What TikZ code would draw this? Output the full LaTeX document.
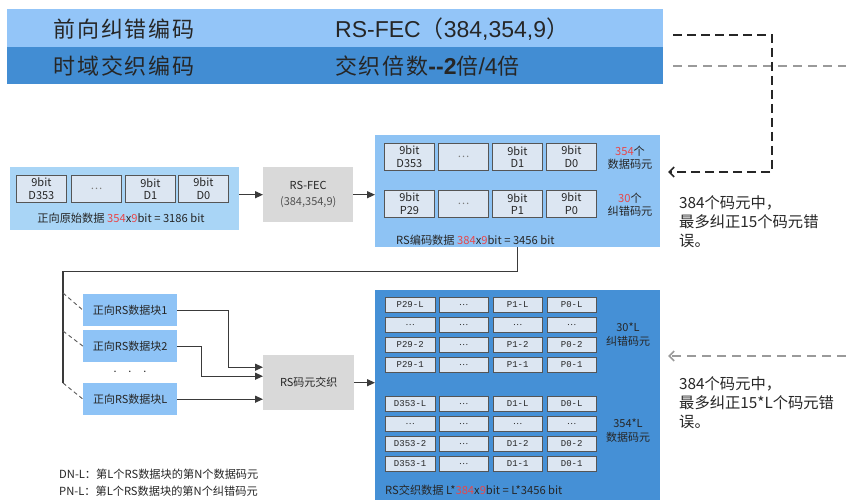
\documentclass[tikz,border=0pt]{standalone}
\usepackage{fontspec}
\setmainfont{Noto Sans CJK SC}
\newfontfamily\cjk{Noto Sans CJK SC}
\newfontfamily\bannercjk{Noto Sans CJK SC}[LetterSpace=8]
\newfontfamily\arial{Liberation Sans}
\newfontfamily\monof{Liberation Mono}
\usetikzlibrary{arrows.meta,calc}

\definecolor{bandA}{HTML}{93C5F8}
\definecolor{bandB}{HTML}{428DD3}
\definecolor{inblue}{HTML}{A9D5F6}
\definecolor{encblue}{HTML}{8EC3F4}
\definecolor{blkblue}{HTML}{8EC3F6}
\definecolor{ilvblue}{HTML}{4590D6}
\definecolor{cellfill}{HTML}{DCE6F2}
\definecolor{cellline}{HTML}{555555}
\definecolor{grayfill}{HTML}{D9D9D9}
\definecolor{wire}{HTML}{3A3A3A}
\definecolor{numred}{HTML}{E8474A}
\definecolor{ink}{HTML}{262626}
\definecolor{dashgray}{HTML}{9A9A9A}

\newcommand{\rn}[1]{\textcolor{numred}{#1}}
\newcommand{\dd}{{\cjk\fontsize{8.5}{9}\selectfont …}}

\tikzset{
  band/.style={rectangle, draw=none, inner sep=0pt, minimum width=656, anchor=north west},
  bannertext/.style={text=ink, inner sep=0pt, font=\fontsize{22}{24}\selectfont},
  bannerlatin/.style={text=ink, inner sep=0pt, font=\fontsize{23}{25}\selectfont},
  panel/.style={rectangle, draw=none, inner sep=0pt, anchor=north west},
  smalltext/.style={text=ink, inner sep=0pt, font=\fontsize{11.2}{13}\selectfont},
  bitcell/.style={rectangle, draw=cellline, fill=cellfill, line width=0.8pt,
    minimum width=50, minimum height=27, inner sep=0pt, anchor=north west,
    align=center, text=ink, font=\fontsize{11}{12.5}\selectfont},
  gridcell/.style={rectangle, draw=cellline, fill=cellfill, line width=0.8pt,
    minimum width=49.5, minimum height=15.5, inner sep=0pt, anchor=north west,
    text=ink, font=\monof\fontsize{9}{10}\selectfont},
  graybox/.style={rectangle, draw=none, fill=grayfill, inner sep=0pt, anchor=north west,
    align=center, text=ink, font=\fontsize{11}{16}\selectfont},
  blkbox/.style={rectangle, draw=none, fill=blkblue, inner sep=0pt, anchor=north west,
    minimum width=94, minimum height=32, text=ink, font=\fontsize{11}{13}\selectfont},
  wireline/.style={draw=wire, line width=1.2pt},
  arr/.style={-{Triangle[length=8pt,width=7pt]}},
  blkdash/.style={draw=black!85, line width=1.6pt, dash pattern=on 9pt off 5pt},
  graydash/.style={draw=dashgray, line width=1.6pt, dash pattern=on 9pt off 6pt},
  barb/.style={-{Straight Barb[length=5pt,width=10pt,line width=1.6pt]}},
  diag/.style={draw=wire!85, line width=0.9pt, dash pattern=on 4pt off 3pt},
  note/.style={text=ink, inner sep=0pt, anchor=north west, align=left,
    font=\fontsize{15.3}{19}\selectfont},
}

\begin{document}
\begin{tikzpicture}[x=1pt,y=-1pt]
\useasboundingbox[fill=white] (0,0) rectangle (846,500);

% ---- header bands ----
\node[band, fill=bandA, minimum height=38] (bandA) at (7,9) {};
\node[band, fill=bandB, minimum height=37] (bandB) at (7,47) {};
\node[bannertext] (labA) at (124,29) {\bannercjk 前向纠错编码};
\node[bannertext] (labB) at (124,66) {\bannercjk 时域交织编码};
\node[bannerlatin, anchor=west] (valA) at (335,29) {\arial RS-FEC{\cjk（}384,354,9{\cjk）}};
\node[bannerlatin, anchor=west] (valB) at (335,66)
  {{\bannercjk\fontsize{22}{24}\selectfont 交织倍数}{\arial\bfseries --2}{\bannercjk\fontsize{22}{24}\selectfont 倍}{\arial /4}{\bannercjk\fontsize{22}{24}\selectfont 倍}};

% ---- raw data block ----
\node[panel, fill=inblue, minimum width=229, minimum height=63] (inbox) at (10,167) {};
\foreach \x/\t [count=\i] in {16/{9bit\\D353}, 71/{\color{ink!60}…}, 125/{9bit\\D1}, 178/{9bit\\D0}}
  \node[bitcell] (in\i) at (\x,175) {\t};
\node[smalltext] (incap) at (121,218) {正向原始数据 \rn{354}x\rn{9}bit = 3186 bit};

% ---- RS-FEC encoder ----
\node[graybox, minimum width=90, minimum height=55] (fec) at (263,167) {RS-FEC\\{\color{ink!80}(384,354,9)}};

% ---- encoded block ----
\node[panel, fill=encblue, minimum width=285, minimum height=112] (enc) at (375,135) {};
\foreach \x/\t [count=\i] in {384/{9bit\\D353}, 438/{\color{ink!60}…}, 492/{9bit\\D1}, 546/{9bit\\D0}}
  \node[bitcell] (ed\i) at (\x,143) {\t};
\foreach \x/\t [count=\i] in {384/{9bit\\P29}, 438/{\color{ink!60}…}, 492/{9bit\\P1}, 546/{9bit\\P0}}
  \node[bitcell] (ep\i) at (\x,190) {\t};
\node[smalltext, align=center] (encD) at (630,158) {\rn{354}个\\数据码元};
\node[smalltext, align=center] (encP) at (630,205) {\rn{30}个\\纠错码元};
\node[smalltext, anchor=west] (enccap) at (396,240) {RS编码数据 \rn{384}x\rn{9}bit = 3456 bit};

\draw[wireline, arr] (fec.west -| inbox.east) -- (fec.west);
\draw[wireline, arr] (fec.east) -- (fec.east -| enc.west);

% ---- split into L data blocks ----
\node[blkbox] (blk1) at (83,294) {正向RS数据块1};
\node[blkbox] (blk2) at (83,330) {正向RS数据块2};
\node[blkbox] (blkL) at (83,383) {正向RS数据块L};
\node[inner sep=0pt, text=ink, font=\fontsize{7}{7}\selectfont] (dots) at (130,373)
  {\textbullet\hspace{8pt}\textbullet\hspace{8pt}\textbullet};

\coordinate (t1) at (63,293);
\coordinate (t2) at (63,331);
\coordinate (t3) at (63,383);
\draw[wireline] (enc.south) -- ++(0,24) -| (t3);
\draw[diag] (t1) -- (blk1.west);
\draw[diag] (t2) -- (blk2.west);
\draw[diag] (t3) -- (blkL.west);

% ---- interleaver ----
\node[graybox, minimum width=91, minimum height=55] (ilv) at (263,355) {RS码元交织};
\draw[wireline, arr] (blk1.east) -- ++(51,0) |- ($(ilv.west)+(0,-15.5)$);
\draw[wireline, arr] (blk2.east) -- ++(24,0) |- ($(ilv.west)+(0,-6.5)$);
\draw[wireline, arr] (blkL.east) -- (blkL.east -| ilv.west);

% ---- interleaved block ----
\node[panel, fill=ilvblue, minimum width=285, minimum height=210] (big) at (375,290) {};
\draw[wireline, arr] (ilv.east) -- (ilv.east -| big.west);

\foreach \a/\b/\c/\d [count=\r] in {P29-L/\dd/P1-L/P0-L, \dd/\dd/\dd/\dd, P29-2/\dd/P1-2/P0-2, P29-1/\dd/P1-1/P0-1}{
  \pgfmathsetmacro{\yy}{296.5+20*(\r-1)}
  \node[gridcell] (gp\r a) at (385,\yy) {\a};
  \node[gridcell] (gp\r b) at (438.5,\yy) {\b};
  \node[gridcell] (gp\r c) at (492.5,\yy) {\c};
  \node[gridcell] (gp\r d) at (546.5,\yy) {\d};
}
\foreach \a/\b/\c/\d [count=\r] in {D353-L/\dd/D1-L/D0-L, \dd/\dd/\dd/\dd, D353-2/\dd/D1-2/D0-2, D353-1/\dd/D1-1/D0-1}{
  \pgfmathsetmacro{\yy}{395.5+20*(\r-1)}
  \node[gridcell] (gd\r a) at (385,\yy) {\a};
  \node[gridcell] (gd\r b) at (438.5,\yy) {\b};
  \node[gridcell] (gd\r c) at (492.5,\yy) {\c};
  \node[gridcell] (gd\r d) at (546.5,\yy) {\d};
}
\node[smalltext, align=center, font=\fontsize{11}{14}\selectfont] (bigP) at (628,335) {30*L\\纠错码元};
\node[smalltext, align=center, font=\fontsize{11}{14}\selectfont] (bigD) at (628,431) {354*L\\数据码元};
\node[smalltext, anchor=west] (bigcap) at (385,490) {RS交织数据 L*\rn{384}x\rn{9}bit = L*3456 bit};

% ---- legend ----
\node[smalltext, anchor=west] (leg1) at (59,474) {DN-L：第L个RS数据块的第N个数据码元};
\node[smalltext, anchor=west] (leg2) at (59,491) {PN-L：第L个RS数据块的第N个纠错码元};

% ---- dashed call-outs ----
\coordinate (dA) at (673,35);
\coordinate (dB) at (673,66);
\coordinate (dBend) at (846,66);
\coordinate (encin) at (668,172);
\coordinate (dC) at (846,356);
\coordinate (bigin) at (668,356);
\draw[graydash] (dB) -- (dBend);
\draw[graydash, barb] (dC) -- (bigin);
\draw[blkdash, barb] (dA) -- (772,35) |- (encin);

\node[note] (noteA) at (679,195) {384个码元中，\\最多纠正15个码元错\\误。};
\node[note] (noteB) at (679,376) {384个码元中，\\最多纠正15*L个码元错\\误。};
\end{tikzpicture}
\end{document}
